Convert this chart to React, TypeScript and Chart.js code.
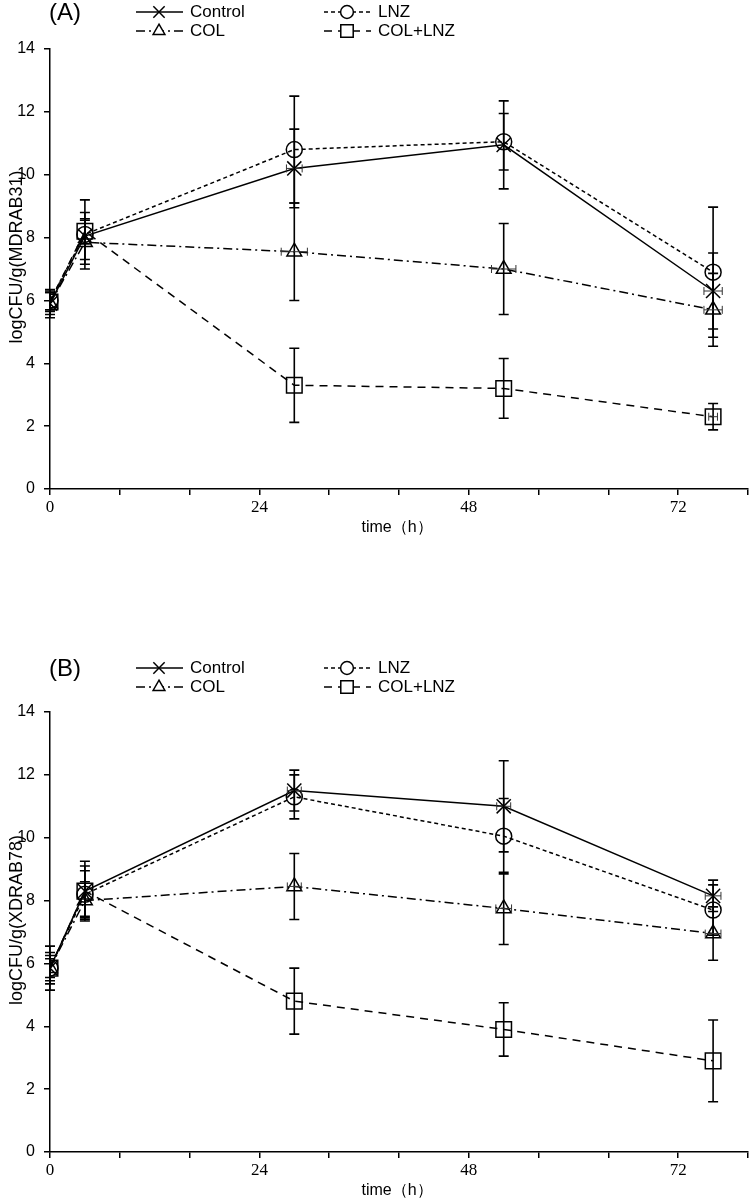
import { useEffect, useRef } from 'react';
import { Chart, registerables } from 'chart.js';
import { drawPoint } from 'chart.js/helpers';

Chart.register(...registerables);

// ---------- data ----------
const timePoints = [0, 4, 28, 52, 76];
const xTickLabels = [0, 24, 48, 72];
const seriesNames = ['Control', 'LNZ', 'COL', 'COL+LNZ'];

// Panel A (MDRAB31)
const aControl = [5.9, 8.05, 10.2, 10.95, 6.3];
const aControlErr = [0.45, 0.75, 1.25, 1.4, 1.21];
const aControlXErr = [0, 0, 0.9, 0, 1.05];
const aLNZ = [6.0, 8.1, 10.8, 11.05, 6.9];
const aLNZErr = [0.3, 1.1, 1.7, 0.9, 2.07];
const aLNZXErr = [0, 0, 0, 0, 0];
const aCOL = [5.9, 7.85, 7.55, 7.0, 5.7];
const aCOLErr = [0.35, 0.7, 1.55, 1.45, 1.16];
const aCOLXErr = [0, 0, 1.5, 1.4, 1.05];
const aCOLLNZ = [5.95, 8.2, 3.3, 3.2, 2.3];
const aCOLLNZErr = [0.3, 0.4, 1.18, 0.95, 0.42];
const aCOLLNZXErr = [0, 0, 0, 0, 0.5];

// Panel B (XDRAB78)
const bControl = [5.85, 8.3, 11.5, 11.0, 8.15];
const bControlErr = [0.5, 0.95, 0.65, 1.45, 0.5];
const bControlXErr = [0, 0, 0.8, 0.8, 0.9];
const bLNZ = [5.85, 8.2, 11.3, 10.05, 7.7];
const bLNZErr = [0.7, 0.75, 0.7, 1.2, 0.8];
const bLNZXErr = [0, 0, 0, 0, 0];
const bCOL = [5.85, 8.0, 8.45, 7.75, 6.95];
const bCOLErr = [0.4, 0.6, 1.05, 1.15, 0.85];
const bCOLXErr = [0, 0, 0.8, 0.9, 0.9];
const bCOLLNZ = [5.85, 8.3, 4.8, 3.9, 2.9];
const bCOLLNZErr = [0.3, 0.8, 1.05, 0.85, 1.3];
const bCOLLNZXErr = [0, 0, 0, 0, 0];

// ---------- styles ----------
const seriesStyles = [
  { dash: [] as number[], point: 'crossRot', radius: 10 },
  { dash: [4, 3], point: 'circle', radius: 8 },
  { dash: [9, 4, 2, 4], point: 'triangle', radius: 8.5 },
  { dash: [8, 6], point: 'rect', radius: 11 },
];

type PanelCfg = {
  label: string;
  yTitle: string;
  values: number[][];
  yErr: number[][];
  xErr: number[][];
  height: number;
  plotTop: number;
  plotBottom: number;
  legendY: number;
};

const SANS = '"Liberation Sans", Arial, sans-serif';

function buildConfig(cfg: PanelCfg): any {
  const errorPlugin = {
    id: 'errorBars' + cfg.label,
    afterDatasetsDraw(chart: any) {
      const { ctx } = chart;
      const xs = chart.scales.x;
      const ys = chart.scales.y;
      ctx.save();
      ctx.strokeStyle = '#000';
      ctx.setLineDash([]);
      cfg.values.forEach((vals, i) => {
        vals.forEach((v, j) => {
          const t = timePoints[j];
          const px = xs.getPixelForValue(t);
          const py = ys.getPixelForValue(v);
          const e = cfg.yErr[i][j];
          if (e > 0) {
            const top = ys.getPixelForValue(v + e);
            const bot = ys.getPixelForValue(v - e);
            ctx.lineWidth = 1.6;
            ctx.beginPath();
            ctx.moveTo(px, top);
            ctx.lineTo(px, bot);
            ctx.moveTo(px - 5, top);
            ctx.lineTo(px + 5, top);
            ctx.moveTo(px - 5, bot);
            ctx.lineTo(px + 5, bot);
            ctx.stroke();
          }
          const xe = cfg.xErr[i][j];
          if (xe > 0) {
            const l = xs.getPixelForValue(t - xe);
            const r = xs.getPixelForValue(t + xe);
            ctx.lineWidth = 1;
            ctx.strokeStyle = '#333';
            ctx.beginPath();
            ctx.moveTo(l, py);
            ctx.lineTo(r, py);
            ctx.moveTo(l, py - 4);
            ctx.lineTo(l, py + 4);
            ctx.moveTo(r, py - 4);
            ctx.lineTo(r, py + 4);
            ctx.stroke();
            ctx.strokeStyle = '#000';
          }
        });
      });
      ctx.restore();
    },
  };

  const textPlugin = {
    id: 'texts' + cfg.label,
    afterDraw(chart: any) {
      const { ctx, chartArea } = chart;
      ctx.save();
      ctx.fillStyle = '#000';
      ctx.strokeStyle = '#000';
      ctx.textBaseline = 'middle';
      // panel label
      ctx.font = `24px ${SANS}`;
      ctx.textAlign = 'left';
      ctx.fillText(cfg.label, 49, cfg.legendY + 1);
      // legend
      const cols = [136, 324];
      seriesNames.forEach((name, i) => {
        const st = seriesStyles[i];
        const x0 = cols[i % 2];
        const y = cfg.legendY + (i < 2 ? 0 : 19);
        ctx.lineWidth = 1.5;
        ctx.setLineDash(st.dash);
        ctx.beginPath();
        ctx.moveTo(x0, y);
        ctx.lineTo(x0 + 47, y);
        ctx.stroke();
        ctx.setLineDash([]);
        ctx.lineWidth = 1.5;
        ctx.fillStyle = '#fff';
        drawPoint(ctx, { pointStyle: st.point as any, radius: st.radius * 0.8, borderWidth: 1.5, rotation: 0 } as any, x0 + 23, y);
        ctx.fillStyle = '#000';
        ctx.font = `17px ${SANS}`;
        ctx.fillText(name, x0 + 54, y);
      });
      // x title
      ctx.font = `16px ${SANS}`;
      ctx.textAlign = 'center';
      ctx.fillText('time（h）', (chartArea.left + chartArea.right) / 2 - 2, chartArea.bottom + 39);
      // y title
      ctx.save();
      ctx.translate(17, (chartArea.top + chartArea.bottom) / 2 - 12);
      ctx.rotate(-Math.PI / 2);
      ctx.font = `18px ${SANS}`;
      ctx.textAlign = 'center';
      ctx.fillText(cfg.yTitle, 0, 0);
      ctx.restore();
      ctx.restore();
    },
  };

  const datasets = cfg.values.map((vals, i) => {
    const st = seriesStyles[i];
    return {
      label: seriesNames[i],
      data: timePoints.map((t, j) => ({ x: t, y: vals[j] })),
      borderColor: '#000',
      borderWidth: 1.5,
      borderDash: st.dash,
      pointStyle: st.point,
      pointRadius: st.radius,
      pointBorderColor: '#000',
      pointBackgroundColor: 'rgba(0,0,0,0)',
      pointBorderWidth: 1.5,
      tension: 0,
      fill: false,
    };
  });

  return {
    type: 'line',
    data: { datasets },
    plugins: [errorPlugin, textPlugin],
    options: {
      responsive: false,
      animation: false,
      events: [],
      layout: { autoPadding: false, padding: { top: cfg.plotTop, right: 1, left: 0, bottom: 0 } },
      plugins: { legend: { display: false }, tooltip: { enabled: false }, title: { display: false } },
      scales: {
        x: {
          type: 'linear',
          min: 0,
          max: 80,
          afterFit: (s: any) => {
            s.height = cfg.height - cfg.plotBottom;
            s.paddingRight = 0;
            s.paddingLeft = 0;
          },
          afterBuildTicks: (s: any) => {
            const t = [];
            for (let v = 0; v <= 80; v += 8) t.push({ value: v });
            s.ticks = t;
          },
          ticks: {
            autoSkip: false,
            maxRotation: 0,
            color: '#000',
            padding: 2,
            font: { family: '"Liberation Serif", serif', size: 17 },
            callback: (v: number) => (xTickLabels.includes(v) ? String(v) : ''),
          },
          grid: { drawOnChartArea: false, drawTicks: true, tickLength: 6, color: '#000', lineWidth: 1.5 },
          border: { color: '#000', width: 1.5 },
        },
        y: {
          min: 0,
          max: 14,
          afterFit: (s: any) => {
            s.width = 50;
          },
          ticks: {
            stepSize: 2,
            color: '#000',
            padding: 9,
            font: { family: SANS, size: 16 },
          },
          grid: { drawOnChartArea: false, drawTicks: true, tickLength: 6, color: '#000', lineWidth: 1.5 },
          border: { color: '#000', width: 1.5 },
        },
      },
    },
  };
}

const panelA: PanelCfg = {
  label: '(A)',
  yTitle: 'logCFU/g(MDRAB31)',
  values: [aControl, aLNZ, aCOL, aCOLLNZ],
  yErr: [aControlErr, aLNZErr, aCOLErr, aCOLLNZErr],
  xErr: [aControlXErr, aLNZXErr, aCOLXErr, aCOLLNZXErr],
  height: 560,
  plotTop: 49,
  plotBottom: 489,
  legendY: 12,
};

const panelB: PanelCfg = {
  label: '(B)',
  yTitle: 'logCFU/g(XDRAB78)',
  values: [bControl, bLNZ, bCOL, bCOLLNZ],
  yErr: [bControlErr, bLNZErr, bCOLErr, bCOLLNZErr],
  xErr: [bControlXErr, bLNZXErr, bCOLXErr, bCOLLNZXErr],
  height: 644,
  plotTop: 152,
  plotBottom: 592,
  legendY: 108,
};

function Panel({ cfg, top }: { cfg: PanelCfg; top: number }) {
  const ref = useRef<HTMLCanvasElement>(null);
  useEffect(() => {
    const chart = new Chart(ref.current as HTMLCanvasElement, buildConfig(cfg));
    return () => chart.destroy();
  }, [cfg]);
  return (
    <div style={{ position: 'absolute', left: 0, top, width: 749, height: cfg.height }}>
      <canvas ref={ref} width={749} height={cfg.height} style={{ display: 'block' }} />
    </div>
  );
}

export default function App() {
  return (
    <div style={{ position: 'absolute', left: 0, top: 0, width: 749, height: 1204, background: '#fff' }}>
      <Panel cfg={panelA} top={0} />
      <Panel cfg={panelB} top={560} />
    </div>
  );
}
